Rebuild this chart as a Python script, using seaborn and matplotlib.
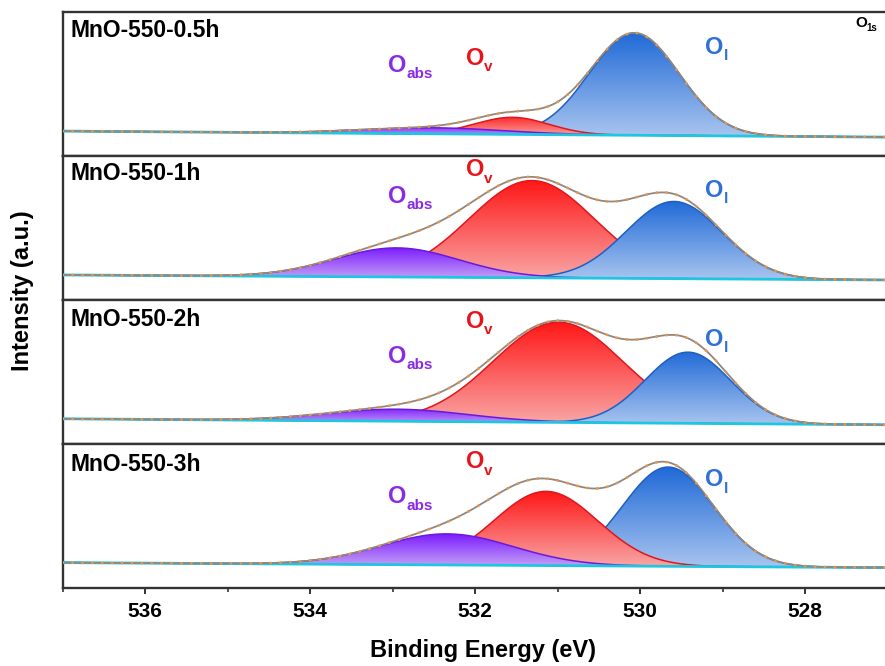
import numpy as np
import matplotlib
matplotlib.use("Agg")
import matplotlib.pyplot as plt
import seaborn as sns
from matplotlib.colors import LinearSegmentedColormap
from matplotlib.ticker import MultipleLocator

# ---------------- data ----------------
samples = ["MnO-550-0.5h", "MnO-550-1h", "MnO-550-2h", "MnO-550-3h"]

# fitted peak parameters: centre (eV), height (a.u.), FWHM (eV)
abs_center = [532.50, 532.95, 532.95, 532.34]
abs_height = [6, 29, 12, 31]
abs_fwhm = [2.00, 1.77, 2.00, 1.88]

v_center = [531.55, 531.31, 530.99, 531.14]
v_height = [17, 97, 100, 74]
v_fwhm = [1.05, 1.79, 1.86, 1.48]

l_center = [530.07, 529.59, 529.42, 529.66]
l_height = [102, 77, 71, 99]
l_fwhm = [1.28, 1.37, 1.22, 1.30]

baseline_left = [0, 0, 0, 0]
baseline_right = [-6, -5, -6, -5]

xticks = [536, 534, 532, 530, 528]
x_range = (537, 527)

# ---------------- style ----------------
sns.set_theme(style="white")
plt.rcParams["font.family"] = ["Liberation Sans", "DejaVu Sans"]
plt.rcParams["font.weight"] = "bold"
plt.rcParams["text.color"] = "black"
plt.rcParams["xtick.color"] = "black"
plt.rcParams["axes.labelcolor"] = "black"

col = {
    "abs": dict(dark="#7612ff", light="#c7a6f6", edge="#6a1ad8", text="#8a2be2"),
    "v": dict(dark="#ff1212", light="#f9a8a8", edge="#e0161c", text="#e8141c"),
    "l": dict(dark="#1a66d6", light="#a9c5ef", edge="#1f5fc0", text="#2f6fd6"),
}
red_over_blue = [True, False, False, True]

label_pos = [  # (x eV, y) for O_abs, O_v, O_l in each panel
    [(532.94, 65.7), (532.0, 72.7), (529.1, 83.7)],
    [(532.94, 78.7), (532.0, 104.7), (529.1, 84.7)],
    [(532.94, 62.3), (532.0, 97.3), (529.1, 79.3)],
    [(532.94, 65.7), (532.0, 100.7), (529.1, 82.7)],
]
title_y = [0.875, 0.88, 0.865, 0.856]


def gauss(x, c, h, w):
    return h * np.exp(-4 * np.log(2) * (x - c) ** 2 / w ** 2)


fig = plt.figure(figsize=(8.85, 6.66), dpi=100)
axes = fig.subplots(4, 1, sharex=True)
fig.subplots_adjust(left=0.0708, right=1.003, top=0.9815, bottom=0.1176, hspace=0)

x = np.linspace(x_range[0], x_range[1], 1001)
xd = np.arange(x_range[0], x_range[1] - 0.001, -0.12)
grad = np.linspace(0, 1, 256).reshape(-1, 1)

for i, ax in enumerate(axes):
    base = np.interp(x, [x_range[1], x_range[0]], [baseline_right[i], baseline_left[i]])
    based = np.interp(xd, [x_range[1], x_range[0]], [baseline_right[i], baseline_left[i]])
    comps = {
        "abs": (abs_center[i], abs_height[i], abs_fwhm[i]),
        "v": (v_center[i], v_height[i], v_fwhm[i]),
        "l": (l_center[i], l_height[i], l_fwhm[i]),
    }
    z = {"abs": 3, "v": 2 if red_over_blue[i] else 1, "l": 1 if red_over_blue[i] else 2}
    total = base.copy()
    totald = based.copy()
    for k, (c, h, w) in comps.items():
        g = gauss(x, c, h, w)
        total += g
        totald += gauss(xd, c, h, w)
        poly = ax.fill_between(x, base, base + g, color="none", lw=0, zorder=z[k])
        cmap = LinearSegmentedColormap.from_list(k, [col[k]["light"], col[k]["dark"]])
        im = ax.imshow(grad, extent=[x_range[0], x_range[1], base.min(), base.max() + h],
                       origin="lower", aspect="auto", cmap=cmap, zorder=z[k])
        im.set_clip_path(poly.get_paths()[0], transform=ax.transData)
        sns.lineplot(x=x, y=base + g, ax=ax, color=col[k]["edge"], lw=1.1,
                     estimator=None, zorder=z[k] + 0.1)
    sns.lineplot(x=x, y=base, ax=ax, color="#1fc6e0", lw=2.0, estimator=None, zorder=4)
    sns.lineplot(x=x, y=total, ax=ax, color="#8f8780", lw=1.3, estimator=None, zorder=5)
    sns.scatterplot(x=xd, y=totald, ax=ax, color="#e8964a", s=4, edgecolor="none", zorder=6)

    ax.set_xlim(*x_range)
    ax.set_ylim(-25, 118.5)
    ax.set_yticks([])
    ax.set_ylabel("")
    for s in ax.spines.values():
        s.set_color("#333333")
        s.set_linewidth(1.7)
    ax.text(0.009, title_y[i], samples[i], transform=ax.transAxes, fontsize=16.5,
            fontweight="bold", va="center", ha="left", color="black")

    for (lx, ly), k, sub in zip(label_pos[i], ["abs", "v", "l"], ["abs", "v", "l"]):
        ax.annotate("O", xy=(lx, ly), ha="center", va="center", fontsize=17,
                    fontweight="bold", color=col[k]["text"], zorder=8)
        ax.annotate(sub, xy=(lx, ly), xytext=(6.5, -6.5), textcoords="offset points",
                    ha="left", va="center", fontsize=11, fontweight="bold",
                    color=col[k]["text"], zorder=8)
    if i < 3:
        ax.tick_params(axis="x", which="both", bottom=False, labelbottom=False)

axes[0].annotate("O", xy=(527.32, 107.7), ha="center", va="center", fontsize=11,
                 fontweight="bold", color="black")
axes[0].annotate("1s", xy=(527.32, 107.7), xytext=(4, -3.5), textcoords="offset points",
                 ha="left", va="center", fontsize=7, fontweight="bold", color="black")

axb = axes[-1]
axb.set_xticks(xticks)
axb.xaxis.set_minor_locator(MultipleLocator(1))
axb.tick_params(axis="x", which="major", bottom=True, length=4, width=1.4,
                direction="out", labelsize=15, pad=6, color="#333333", labelcolor="black")
axb.tick_params(axis="x", which="minor", bottom=True, length=3, width=1.2,
                direction="out", color="#333333")
for lab in axb.get_xticklabels():
    lab.set_fontweight("bold")
axb.set_xlabel("")

fig.text(0.546, 0.024, "Binding Energy (eV)", ha="center", va="center",
         fontsize=17, fontweight="bold", color="black")
fig.text(0.025, 0.563, "Intensity (a.u.)", ha="center", va="center",
         fontsize=17, fontweight="bold", rotation=90, color="black")

fig.savefig("out.png", dpi=100)
